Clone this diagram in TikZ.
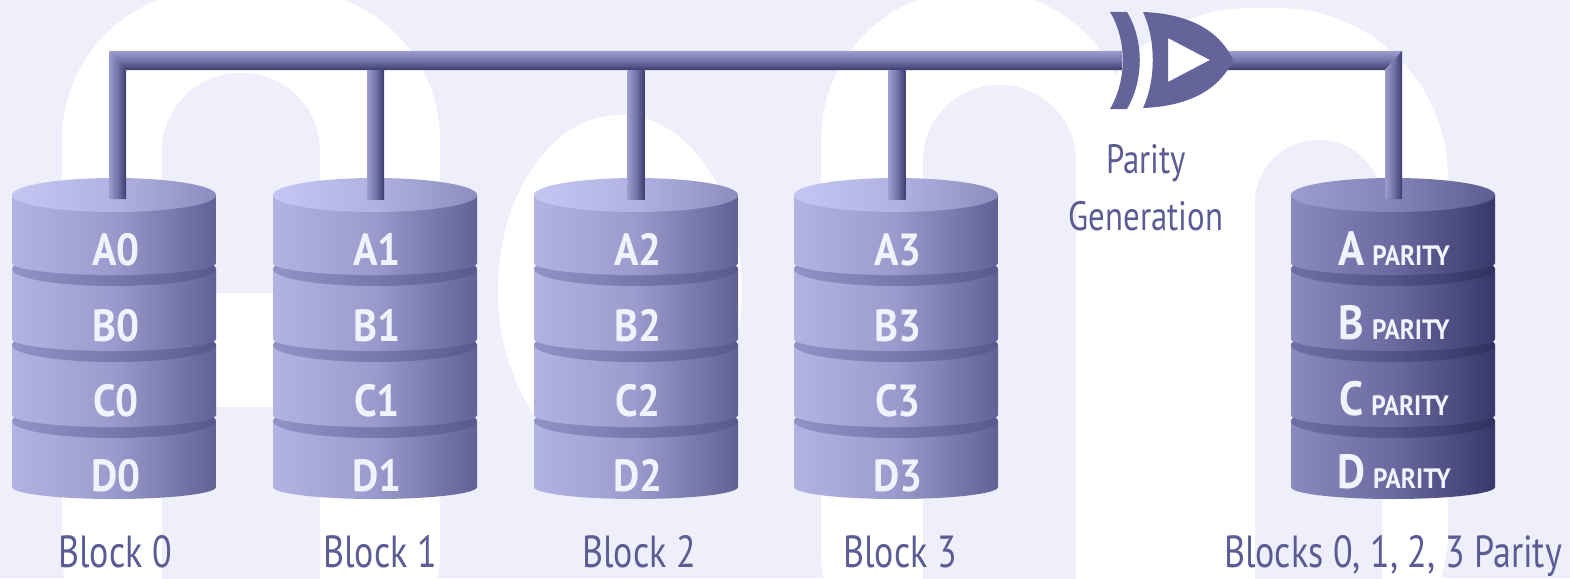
\documentclass[tikz,border=0pt]{standalone}
\usepackage{fontspec}
\usetikzlibrary{calc}
\newfontfamily\labelfont[FakeStretch=0.8]{PT Sans}
\newfontfamily\diskfont[FakeStretch=0.9]{PT Sans}

\definecolor{paper}{HTML}{EFEFFB}
\definecolor{ink}{HTML}{5C5C94}
\definecolor{gatecol}{HTML}{64649A}
\definecolor{barhi}{HTML}{9C9CCE}
\definecolor{barmid}{HTML}{7474AA}
\definecolor{barlo}{HTML}{3C3C6E}
\definecolor{dsL}{HTML}{B3B3E3}
\definecolor{dsM}{HTML}{9A9ACC}
\definecolor{dsR}{HTML}{616197}
\definecolor{dtL}{HTML}{C6C6F3}
\definecolor{dtM}{HTML}{B2B2E2}
\definecolor{dtR}{HTML}{8C8CBE}
\definecolor{dgL}{HTML}{9292C6}
\definecolor{dgM}{HTML}{7878AE}
\definecolor{dgR}{HTML}{58588C}
\definecolor{psL}{HTML}{8A8ABF}
\definecolor{psM}{HTML}{6A6AA0}
\definecolor{psR}{HTML}{38386A}
\definecolor{ptL}{HTML}{9C9CD0}
\definecolor{ptM}{HTML}{8484BA}
\definecolor{ptR}{HTML}{5C5C90}
\definecolor{pgL}{HTML}{6E6EA6}
\definecolor{pgM}{HTML}{54548A}
\definecolor{pgR}{HTML}{303060}
\definecolor{disktext}{HTML}{F2F2FF}

\tikzset{
  data side/.style={left color=dsL, right color=dsR, middle color=dsM},
  data top/.style={left color=dtL, right color=dtR, middle color=dtM},
  data groove/.style={left color=dgL, right color=dgR, middle color=dgM},
  par side/.style={left color=psL, right color=psR, middle color=psM},
  par top/.style={left color=ptL, right color=ptR, middle color=ptM},
  par groove/.style={left color=pgL, right color=pgR, middle color=pgM},
  hbar/.style={top color=barhi, bottom color=barlo, middle color=barmid},
  vbar/.style={left color=barhi, right color=barlo, middle color=barmid},
  disklabel/.style={inner sep=0pt, anchor=base, text=disktext,
    font=\diskfont\bfseries\fontsize{45}{45}\selectfont},
  caption/.style={inner sep=0pt, anchor=base, text=ink,
    font=\labelfont\fontsize{45}{45}\selectfont},
  gatecaption/.style={inner sep=0pt, anchor=base, text=ink,
    font=\labelfont\fontsize{41}{41}\selectfont},
}

% one disk stack: #1 = centre x, #2 = palette (data or par)
\newcommand\drawdisk[2]{%
  \foreach \yt/\yb in {421/487,345/415,269/339}{%
    \shade[#2 side] (#1-102,\yt) -- (#1-102,\yb)
      arc[start angle=180,end angle=0,x radius=102,y radius=12]
      -- (#1+102,\yt) -- cycle;
    \shade[#2 groove] (#1,\yt) ellipse[x radius=102,y radius=17];
  }
  \shade[#2 side] (#1-102,195) -- (#1-102,263)
    arc[start angle=180,end angle=0,x radius=102,y radius=12]
    -- (#1+102,195) -- cycle;
  \shade[#2 top] (#1,195) ellipse[x radius=102,y radius=17];
}

\newcommand\parlabel[1]{{\fontsize{48}{48}\selectfont #1}\hspace{8pt}{\fontsize{28}{28}\selectfont PARITY}}

\begin{document}
\begin{tikzpicture}[x=1pt,y=-1pt]
\useasboundingbox (0,0) rectangle (1570,578);
\fill[paper] (0,0) rectangle (1570,578);

% faint lettering in the backdrop
\fill[white, rounded corners=150] (62,-10) rectangle (440,700);
\fill[paper, rounded corners=78] (162,73) rectangle (320,700);
\fill[white] (162,293) rectangle (320,407);
\fill[white] (620,290) ellipse[x radius=122, y radius=175];
\fill[white, rounded corners=150] (821,-10) rectangle (1130,700);
\fill[white, rounded corners=170] (1080,8) rectangle (1448,700);
\fill[paper, rounded corners=76] (923,85) rectangle (1076,700);
\fill[paper, rounded corners=63] (1255,140) rectangle (1382,700);

% disk stacks
\drawdisk{114}{data}
\drawdisk{375}{data}
\drawdisk{636}{data}
\drawdisk{896}{data}
\drawdisk{1393}{par}

% bus taps
\coordinate (p0) at (117.5,60.5);
\coordinate (p1) at (375.5,60.5);
\coordinate (p2) at (636,60.5);
\coordinate (p3) at (897,60.5);
\coordinate (p4) at (1393.5,60.5);
\coordinate (t0) at (117.5,199);
\coordinate (t1) at (375.5,199);
\coordinate (t2) at (636,199);
\coordinate (t3) at (897,199);
\coordinate (t4) at (1393.5,199);
\coordinate (gin) at (1122,60.5);
\coordinate (gout) at (1226,60.5);

% bus from block 0 to the gate, with mitred corner
\shade[hbar] ($(p0)+(-8.5,-9.5)$) -- ($(gin)+(0,-9.5)$) -- ($(gin)+(0,9.5)$) -- ($(p0)+(8.5,9.5)$) -- cycle;
\shade[vbar] ($(p0)+(-8.5,-9.5)$) -- ($(p0)+(8.5,9.5)$) -- ($(t0)+(8.5,0)$) -- ($(t0)+(-8.5,0)$) -- cycle;
\shade[vbar] ($(p1)+(-8.5,9.5)$) rectangle ($(t1)+(8.5,0)$);
\shade[vbar] ($(p2)+(-8.5,9.5)$) rectangle ($(t2)+(8.5,0)$);
\shade[vbar] ($(p3)+(-8.5,9.5)$) rectangle ($(t3)+(8.5,0)$);
% gate output to the parity disk
\shade[hbar] ($(gout)+(0,-9.5)$) -- ($(p4)+(8.5,-9.5)$) -- ($(p4)+(-8.5,9.5)$) -- ($(gout)+(0,9.5)$) -- cycle;
\shade[vbar] ($(p4)+(-8.5,9.5)$) -- ($(p4)+(8.5,-9.5)$) -- ($(t4)+(8.5,0)$) -- ($(t4)+(-8.5,0)$) -- cycle;

% XOR gate
\fill[gatecol] (1110,12) .. controls (1127,40) and (1127,80) .. (1110,109)
  -- (1127,109) .. controls (1144,80) and (1144,40) .. (1127,12) -- cycle;
\fill[gatecol, even odd rule] (1143,12) .. controls (1195,14) and (1222,35) .. (1233,60)
  .. controls (1222,85) and (1195,106) .. (1143,108)
  .. controls (1156,80) and (1156,40) .. (1143,12) -- cycle
  (1168,38) -- (1210,60) -- (1168,82) -- cycle;
\node[gatecaption] (pg1) at (1146,173) {Parity};
\node[gatecaption] (pg2) at (1146,230) {Generation};

% disk contents
\foreach \cx/\n in {114/0,375/1,636/2,896/3}{
  \node[disklabel] (a\n) at (\cx+2,265) {A\n};
  \node[disklabel] (b\n) at (\cx+2,341) {B\n};
  \node[disklabel] (c\n) at (\cx+2,416) {C\n};
  \node[disklabel] (d\n) at (\cx+2,491) {D\n};
}
\node[disklabel] (ap) at (1394,265) {\parlabel{A}};
\node[disklabel] (bp) at (1394,339) {\parlabel{B}};
\node[disklabel] (cp) at (1394,415) {\parlabel{C}};
\node[disklabel] (dp) at (1394,488) {\parlabel{D}};

% captions
\node[caption] (cap0) at (115,567) {Block 0};
\node[caption] (cap1) at (380,567) {Block 1};
\node[caption] (cap2) at (639,567) {Block 2};
\node[caption] (cap3) at (900,567) {Block 3};
\node[caption] (cap4) at (1393,567) {Blocks 0, 1, 2, 3 Parity};
\end{tikzpicture}
\end{document}
